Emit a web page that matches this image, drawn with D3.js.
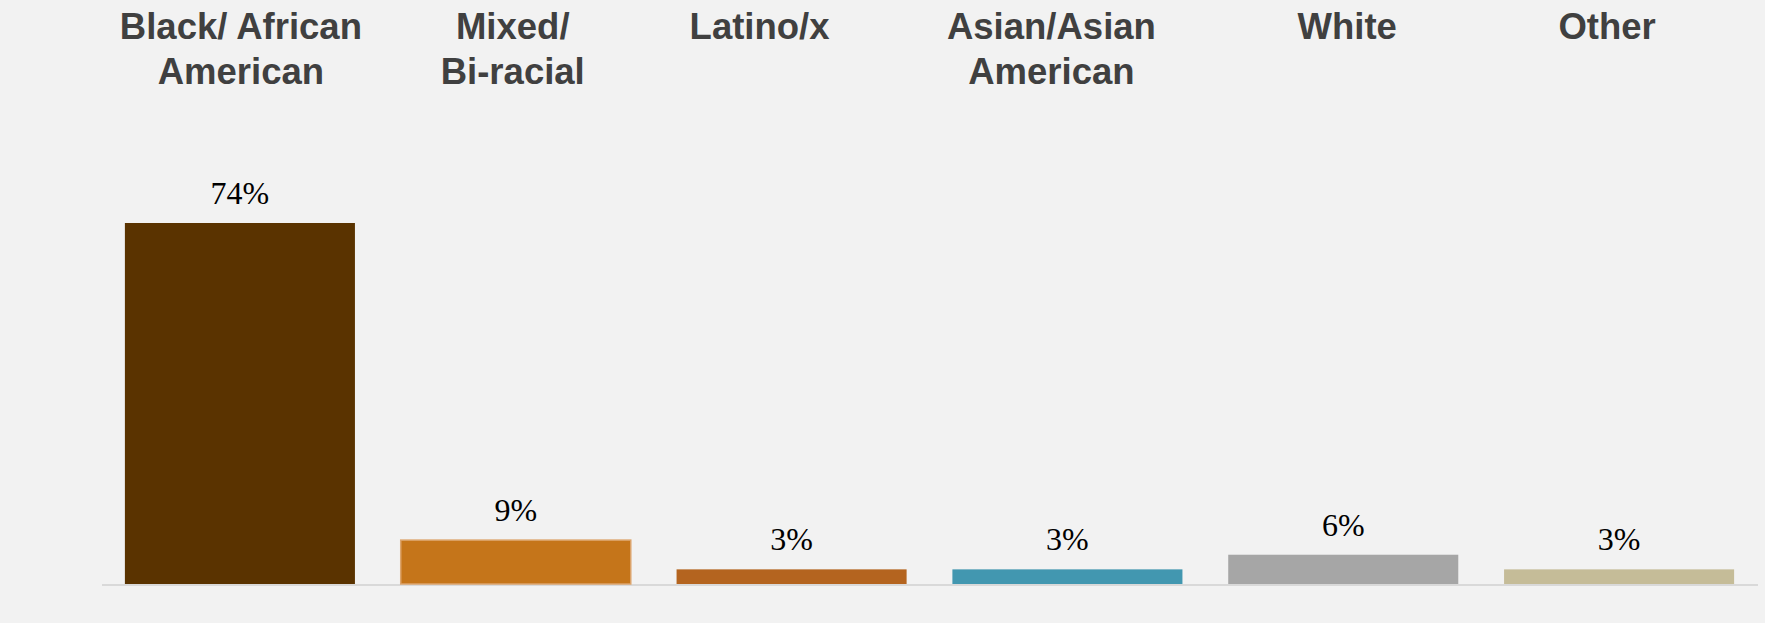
<!DOCTYPE html>
<html>
<head>
<meta charset="utf-8">
<script src="https://cdn.jsdelivr.net/npm/d3@7/dist/d3.min.js"></script>
<style>
  html, body { margin: 0; padding: 0; background: #f2f2f2; }
  svg { display: block; }
</style>
</head>
<body>
<svg id="chart" width="1765" height="623"></svg>
<script>
// Race / ethnicity breakdown (percent of respondents)
const categories = [
  ["Black/ African", "American"],
  ["Mixed/", "Bi-racial"],
  ["Latino/x"],
  ["Asian/Asian", "American"],
  ["White"],
  ["Other"]
];
const values = [74, 9, 3, 3, 6, 3];
const valueLabels = ["74%", "9%", "3%", "3%", "6%", "3%"];
const barColors = ["#5a3300", "#c5751a", "#b4641f", "#4297b0", "#a6a6a6", "#c5bc98"];

// Horizontal nudges for the header text blocks
const headerShift = [1, -3, -32, -16, 4, -12];

const W = 1765, H = 623;
const svg = d3.select("#chart");

svg.append("rect").attr("width", W).attr("height", H).attr("fill", "#f2f2f2");

const x = d3.scaleBand()
  .domain(d3.range(values.length))
  .range([102, 1757])
  .paddingInner(0.166)
  .paddingOuter(0.083);

const y = d3.scaleLinear().domain([0, 74]).range([584, 223]);

// Baseline
svg.append("line")
  .attr("x1", 102).attr("x2", 1758)
  .attr("y1", 585).attr("y2", 585)
  .attr("stroke", "#d9d9d9").attr("stroke-width", 2);

// Bars
svg.selectAll("rect.bar")
  .data(values)
  .join("rect")
  .attr("class", "bar")
  .attr("x", (d, i) => x(i))
  .attr("y", d => y(d))
  .attr("width", x.bandwidth())
  .attr("height", d => y(0) - y(d))
  .attr("fill", (d, i) => barColors[i])
  .attr("stroke", (d, i) => i === 1 ? "#dca46c" : "none")
  .attr("stroke-width", 1.5);

// Value labels
svg.selectAll("text.value")
  .data(values)
  .join("text")
  .attr("class", "value")
  .attr("x", (d, i) => x(i) + x.bandwidth() / 2)
  .attr("y", d => y(d) - 19)
  .attr("text-anchor", "middle")
  .attr("font-family", "'Liberation Serif', 'Times New Roman', serif")
  .attr("font-size", 32)
  .attr("fill", "#000")
  .text((d, i) => valueLabels[i]);

// Category headers across the top
const headers = svg.selectAll("text.cat")
  .data(categories)
  .join("text")
  .attr("class", "cat")
  .attr("text-anchor", "middle")
  .attr("font-family", "'Liberation Sans', Arial, sans-serif")
  .attr("font-weight", "bold")
  .attr("font-size", 36.5)
  .attr("fill", "#404040");

headers.each(function(lines, i) {
  const cx = x(i) + x.bandwidth() / 2 + headerShift[i];
  d3.select(this).selectAll("tspan")
    .data(lines)
    .join("tspan")
    .attr("x", cx)
    .attr("y", (d, j) => 38.5 + j * 45)
    .text(d => d);
});
</script>
</body>
</html>
